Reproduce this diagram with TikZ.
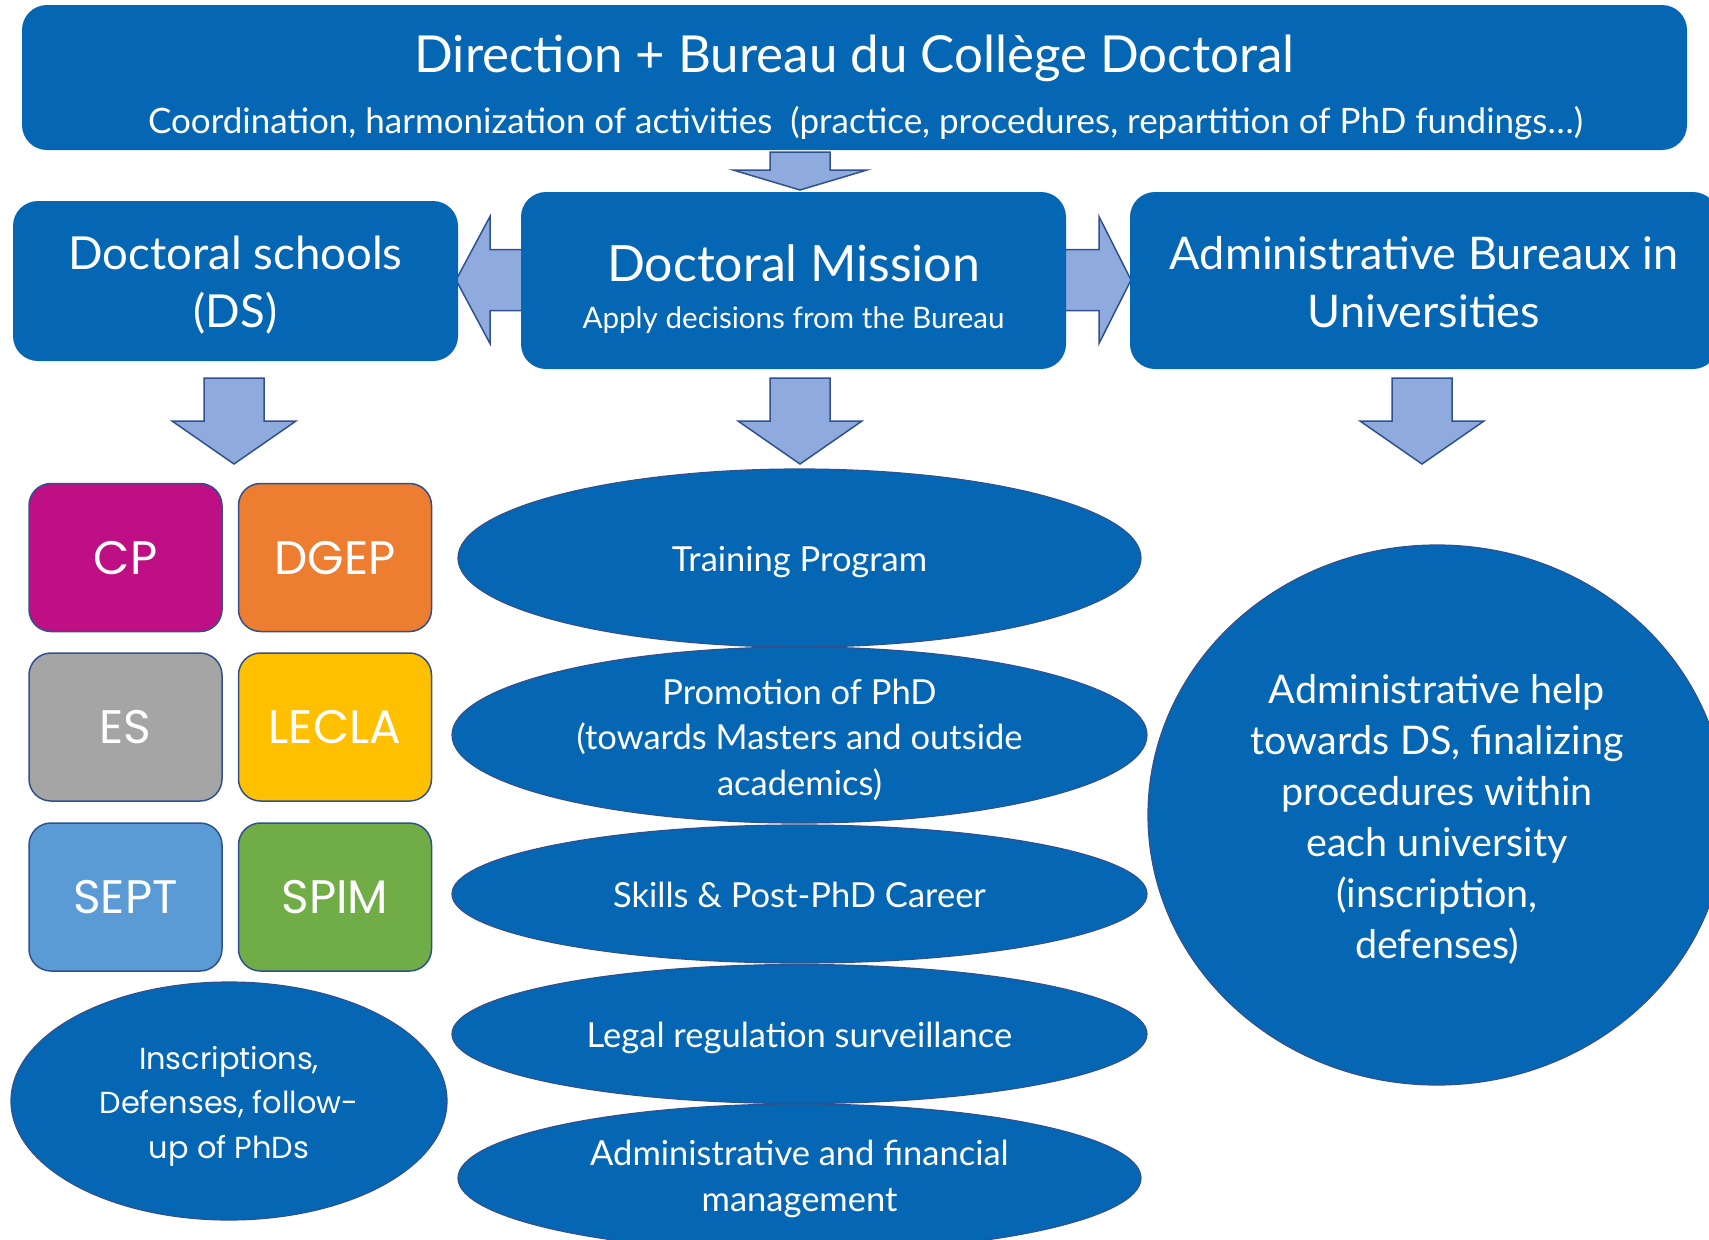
\documentclass[tikz,border=0pt]{standalone}
\usepackage{fontspec}
\setmainfont{Lato}
\newfontfamily\gothic{Poppins}
\usetikzlibrary{shapes.geometric}

\definecolor{cdblue}{HTML}{0567B3}
\definecolor{cdedge}{HTML}{2F528F}
\definecolor{arrowfill}{HTML}{8FAADC}
\definecolor{cpcol}{HTML}{BE0F84}
\definecolor{dgepcol}{HTML}{ED7D31}
\definecolor{escol}{HTML}{A5A5A5}
\definecolor{leclacol}{HTML}{FFC000}
\definecolor{septcol}{HTML}{5B9BD5}
\definecolor{spimcol}{HTML}{70AD47}

\tikzset{
    headbox/.style={fill=cdblue, rounded corners=25pt,
        text=white, align=center, inner sep=0pt},
    schoolbox/.style={draw=cdedge, line width=1.5pt, rounded corners=22pt,
        minimum width=193pt, minimum height=148pt, text=white, inner sep=0pt,
        text height=33pt, text depth=0pt, font=\gothic\fontsize{47}{50}\selectfont},
    blob/.style={ellipse, draw=cdedge, line width=1.2pt, fill=cdblue,
        text=white, align=center, inner sep=0pt},
    midtext/.style={font=\fontsize{34.5}{45.5}\selectfont},
    blockarrow/.style={draw=cdedge, line width=1.5pt, fill=arrowfill},
}

\begin{document}
\begin{tikzpicture}[x=1pt,y=-1pt]
    \useasboundingbox (0,0) rectangle (1709,1240);

    % arrows first, the boxes hide their ends
    \draw[blockarrow] (770,152) -- (830,152) -- (830,170) -- (867,170) -- (800,190)
        -- (733,170) -- (770,170) -- cycle;
    \draw[blockarrow] (540,249.5) -- (490,249.5) -- (490,216.5) -- (456,280)
        -- (490,343.5) -- (490,310.5) -- (540,310.5) -- cycle;
    \draw[blockarrow] (1050,249.5) -- (1099,249.5) -- (1099,216.5) -- (1131,280)
        -- (1099,343.5) -- (1099,310.5) -- (1050,310.5) -- cycle;
    \foreach \ax in {234,800,1422}
        {\draw[blockarrow] (\ax-30,378) -- (\ax+30,378) -- (\ax+30,421) -- (\ax+62,421)
            -- (\ax,464) -- (\ax-62,421) -- (\ax-30,421) -- cycle;}

    \node[headbox, minimum width=1665pt, minimum height=145pt,
        text height=111pt, text depth=0pt, font=\fontsize{35}{61}\selectfont] (bureau) at (854.5,77.5)
        {{\fontsize{51}{61}\selectfont Direction + Bureau du Collège Doctoral}\\
         \hspace*{22pt}Coordination, harmonization of activities \ (practice, procedures, repartition of PhD fundings…)};
    \node[headbox, minimum width=445pt, minimum height=160pt,
        text height=92pt, text depth=0pt, font=\fontsize{45.5}{58}\selectfont] (schools) at (235.5,281)
        {Doctoral schools\\(DS)};
    \node[headbox, minimum width=545pt, minimum height=177pt,
        text height=95pt, text depth=0pt, font=\fontsize{29.6}{47}\selectfont] (mission) at (793.5,280.5)
        {{\fontsize{50}{47}\selectfont Doctoral Mission}\\
         Apply decisions from the Bureau};
    \node[headbox, minimum width=588pt, minimum height=177pt,
        text height=93pt, text depth=0pt, font=\fontsize{45}{58}\selectfont] (offices) at (1424,280.5)
        {Administrative Bureaux in\\Universities};

    \foreach \nm/\px/\py/\col in {CP/125.5/557.5/cpcol, DGEP/335/557.5/dgepcol,
        ES/125.5/727/escol, LECLA/335/727/leclacol,
        SEPT/125.5/897/septcol, SPIM/335/897/spimcol}
        {\node[schoolbox, fill=\col] (\nm) at (\px,\py) {\nm};}

    \node[blob, minimum width=436pt, minimum height=238pt, text height=114pt, text depth=0pt,
        font=\gothic\fontsize{30.4}{44.5}\selectfont] (followup) at (229,1101)
        {Inscriptions,\\Defenses, follow-\\up of PhDs};

    \node[blob, midtext, minimum width=683pt, minimum height=178pt,
        text height=29pt, text depth=2pt] (training) at (799.5,558) {Training Program};
    \node[blob, midtext, minimum width=695pt, minimum height=176pt,
        text height=120pt, text depth=0pt] (promo) at (799.5,735)
        {Promotion of PhD\\(towards Masters and outside\\academics)};
    \node[blob, midtext, minimum width=695pt, minimum height=138pt,
        text height=29pt, text depth=2pt] (skills) at (799.5,894) {Skills \& Post-PhD Career};
    \node[blob, midtext, minimum width=695pt, minimum height=139pt,
        text height=29pt, text depth=2pt] (legal) at (799.5,1034) {Legal regulation surveillance};
    \node[blob, midtext, minimum width=683pt, minimum height=148pt,
        text height=66pt, text depth=0pt] (finance) at (799.5,1178)
        {Administrative and financial\\management};

    \node[blob, minimum width=578pt, minimum height=540pt, text height=286pt, text depth=0pt,
        font=\fontsize{39.5}{51}\selectfont] (unihelp) at (1437,815)
        {Administrative help\\towards DS, finalizing\\procedures within\\each university\\(inscription,\\defenses)};
\end{tikzpicture}
\end{document}
